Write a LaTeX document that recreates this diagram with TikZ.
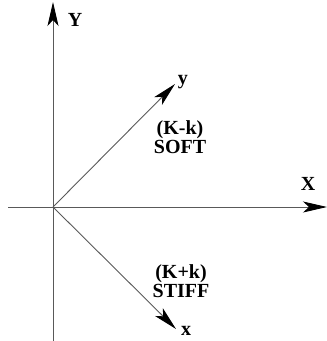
\documentclass[tikz,border=0pt]{standalone}
\usepackage{fontspec}
\setmainfont{Liberation Serif}
\usetikzlibrary{arrows.meta}

\begin{document}
\begin{tikzpicture}[x=1pt,y=-1pt,font=\bfseries\fontsize{20}{19}\selectfont,
  axis/.style={draw=black!65,line width=.9pt,-{Stealth[length=24pt,width=11pt,inset=6pt,black]}}]
\useasboundingbox (0,0) rectangle (327,341);
\coordinate (O) at (53,207);
\coordinate (Ybot) at (53,341);
\coordinate (Ytop) at (53,2);
\coordinate (Xleft) at (8,207);
\coordinate (Xright) at (327,207);
\coordinate (ytip) at (175,84);
\coordinate (xtip) at (176,329);
\draw[axis] (Ybot) -- (Ytop);
\draw[axis] (Xleft) -- (Xright);
\draw[axis] (O) -- (ytip);
\draw[axis] (O) -- (xtip);
\node (Ylab) at (75,20) {Y};
\node (Xlab) at (308,184) {X};
\node (ylab) at (183,82) {y};
\node (xlab) at (186,331) {x};
\node[align=center] (soft) at (180,137) {(K-k)\\SOFT};
\node[align=center] (stiff) at (181,281) {(K+k)\\STIFF};
\end{tikzpicture}
\end{document}
